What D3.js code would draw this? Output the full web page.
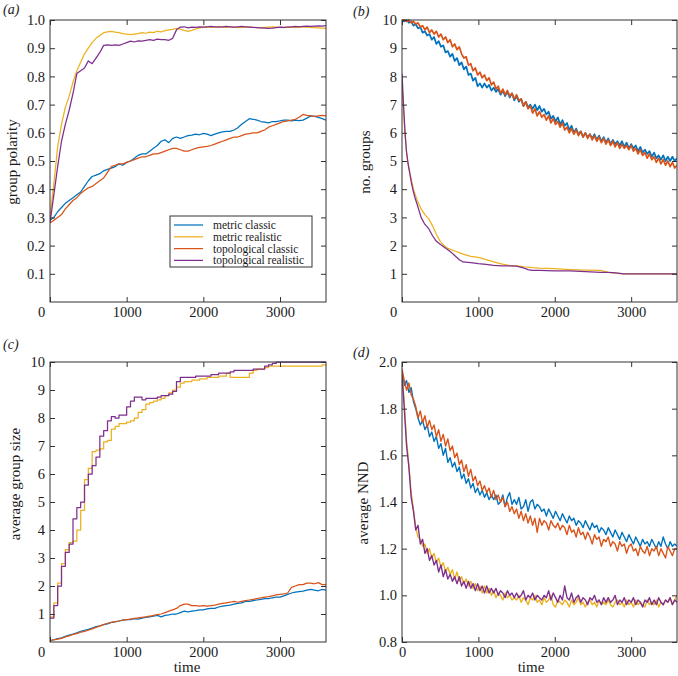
<!DOCTYPE html>
<html><head><meta charset="utf-8">
<script src="https://cdn.jsdelivr.net/npm/d3@7"></script>
<style>
body{margin:0;background:#fff}
svg{display:block}
text{font-family:"Liberation Serif","Times New Roman",serif;fill:#1a1a1a}
</style>
</head><body>
<svg id="chart" width="678" height="676"></svg>
<script>
// ---------------- DATA ----------------
const seriesNames = ["metric classic","metric realistic","topological classic","topological realistic"];
const seriesColors = ["#0072BD","#EDB120","#D95319","#7E2F8E"];
const xDomain = [0, 3600];
const xTicks = [0, 1000, 2000, 3000];
const aYTicks = [0.1,0.2,0.3,0.4,0.5,0.6,0.7,0.8,0.9,1.0];
const bYTicks = [1,2,3,4,5,6,7,8,9,10];
const cYTicks = [1,2,3,4,5,6,7,8,9,10];
const dYTicks = [0.8,1.0,1.2,1.4,1.6,1.8,2.0];

// panel (a): group polarity, sampled every 50 time units
const aStep = 50;
const aMetricClassic = [0.29,0.30,0.32,0.335,0.35,0.36,0.37,0.38,0.39,0.41,
 0.43,0.445,0.45,0.455,0.465,0.47,0.475,0.48,0.49,0.485,
 0.495,0.50,0.51,0.52,0.525,0.525,0.535,0.545,0.555,0.57,
 0.575,0.565,0.58,0.585,0.58,0.585,0.59,0.592,0.595,0.593,
 0.598,0.595,0.59,0.595,0.60,0.603,0.605,0.605,0.61,0.618,
 0.63,0.64,0.65,0.648,0.645,0.64,0.638,0.635,0.64,0.64,
 0.642,0.645,0.645,0.642,0.645,0.643,0.645,0.652,0.66,0.658,
 0.655,0.65,0.645];
const aMetricRealistic = [0.30,0.42,0.55,0.63,0.69,0.73,0.78,0.82,0.85,0.88,
 0.90,0.92,0.935,0.945,0.955,0.958,0.96,0.957,0.955,0.952,
 0.95,0.948,0.95,0.952,0.955,0.953,0.957,0.955,0.96,0.958,
 0.962,0.965,0.967,0.97,0.968,0.963,0.96,0.963,0.968,0.972,
 0.975,0.976,0.974,0.975,0.977,0.975,0.974,0.976,0.975,0.973,
 0.974,0.975,0.976,0.974,0.973,0.972,0.974,0.975,0.976,0.975,
 0.974,0.973,0.975,0.974,0.973,0.975,0.976,0.975,0.974,0.973,
 0.972,0.971,0.97];
const aTopoClassic = [0.28,0.29,0.30,0.31,0.33,0.345,0.36,0.37,0.385,0.395,
 0.405,0.41,0.42,0.43,0.44,0.46,0.48,0.485,0.49,0.49,
 0.495,0.50,0.505,0.51,0.515,0.515,0.52,0.525,0.525,0.53,
 0.535,0.54,0.545,0.545,0.54,0.535,0.535,0.54,0.545,0.548,
 0.55,0.552,0.555,0.56,0.565,0.57,0.575,0.58,0.585,0.585,
 0.59,0.595,0.597,0.60,0.60,0.605,0.61,0.62,0.625,0.63,
 0.635,0.64,0.642,0.645,0.648,0.655,0.665,0.662,0.66,0.658,
 0.66,0.662,0.66];
const aTopoRealistic = [0.28,0.38,0.48,0.57,0.63,0.68,0.74,0.81,0.82,0.83,
 0.855,0.845,0.865,0.885,0.91,0.912,0.91,0.912,0.91,0.915,
 0.92,0.925,0.922,0.926,0.925,0.928,0.93,0.928,0.932,0.93,
 0.93,0.928,0.935,0.965,0.975,0.976,0.972,0.975,0.974,0.976,
 0.975,0.976,0.977,0.976,0.975,0.976,0.977,0.976,0.975,0.976,
 0.977,0.976,0.975,0.974,0.973,0.972,0.971,0.97,0.971,0.973,
 0.975,0.974,0.975,0.976,0.977,0.976,0.977,0.978,0.977,0.978,
 0.979,0.978,0.98];

// panel (b): number of groups
const bStep = 30;
const bMetricClassic = [10.0,9.95,10.0,9.9,9.95,9.8,9.85,9.7,9.75,9.55,
 9.6,9.45,9.5,9.3,9.4,9.15,9.25,9.05,9.1,8.85,
 8.9,8.7,8.8,8.55,8.65,8.4,8.5,8.25,8.35,8.05,
 8.1,7.85,7.95,7.65,7.75,7.6,7.75,7.6,7.7,7.5,
 7.6,7.45,7.55,7.35,7.5,7.3,7.45,7.25,7.4,7.15,
 7.3,7.1,7.2,6.95,7.1,6.9,7.0,6.85,7.0,6.8,
 6.95,6.75,6.85,6.65,6.75,6.5,6.6,6.4,6.55,6.3,
 6.45,6.25,6.35,6.1,6.25,6.0,6.15,5.95,6.05,5.85,
 6.0,5.85,5.95,5.8,5.95,5.75,5.9,5.7,5.85,5.65,
 5.8,5.6,5.75,5.6,5.7,5.55,5.7,5.5,5.65,5.45,
 5.6,5.45,5.55,5.35,5.5,5.3,5.4,5.25,5.35,5.15,
 5.3,5.1,5.2,5.05,5.2,5.0,5.15,5.0,5.15,5.0,
 5.1];
const bTopoClassic = [10.0,10.0,9.95,10.0,9.9,9.95,9.85,9.9,9.75,9.8,
 9.65,9.75,9.55,9.65,9.5,9.6,9.4,9.5,9.3,9.4,
 9.2,9.3,9.05,9.15,8.95,9.05,8.8,8.65,8.7,8.4,
 8.45,8.2,8.3,8.05,8.15,7.95,8.05,7.85,7.95,7.7,
 7.8,7.55,7.65,7.4,7.55,7.35,7.5,7.3,7.4,7.2,
 7.35,7.15,7.2,6.95,7.1,6.85,6.95,6.7,6.85,6.6,
 6.75,6.55,6.65,6.45,6.6,6.35,6.5,6.3,6.4,6.2,
 6.35,6.1,6.2,6.0,6.15,5.95,6.1,5.9,6.05,5.85,
 6.0,5.8,5.95,5.75,5.9,5.7,5.85,5.65,5.8,5.6,
 5.75,5.55,5.7,5.5,5.65,5.45,5.6,5.45,5.55,5.4,
 5.55,5.35,5.45,5.25,5.4,5.2,5.3,5.1,5.25,5.05,
 5.15,4.95,5.1,4.9,5.05,4.85,5.0,4.8,4.95,4.75,
 4.85];
const bRealTime = [0,20,40,60,80,100,125,150,175,200,250,300,350,400,450,500,550,600,650,700,750,800,
 900,1000,1100,1200,1300,1400,1500,1600,1650,1700,1800,2000,2200,2400,2600,2700,2800,2900,3000,3600];
const bMetricRealistic = [7.7,6.8,5.9,5.3,4.9,4.6,4.3,4.0,3.8,3.6,3.3,3.1,2.95,2.7,2.4,2.15,2.0,1.9,1.85,1.8,1.75,1.7,
 1.62,1.58,1.5,1.42,1.35,1.3,1.28,1.25,1.24,1.22,1.2,1.18,1.15,1.13,1.12,1.05,1.02,1.0,1.0,1.0];
const bTopoRealistic = [8.1,7.0,6.0,5.3,4.9,4.6,4.2,3.9,3.65,3.45,3.0,2.75,2.6,2.35,2.15,2.05,1.95,1.85,1.75,1.62,1.5,1.42,
 1.4,1.36,1.33,1.3,1.28,1.28,1.27,1.2,1.15,1.12,1.12,1.1,1.1,1.08,1.05,1.05,1.03,1.0,1.0,1.0];

// panel (c): average group size
const cStep = 50;
const cMetricClassic = [0.05,0.08,0.12,0.15,0.2,0.25,0.28,0.33,0.38,0.42,
 0.45,0.5,0.55,0.58,0.62,0.65,0.7,0.72,0.75,0.78,
 0.8,0.8,0.83,0.82,0.85,0.88,0.9,0.92,0.95,0.9,
 0.95,0.97,1.0,1.0,1.05,1.1,1.08,1.1,1.12,1.15,
 1.15,1.18,1.2,1.2,1.25,1.28,1.3,1.32,1.35,1.38,
 1.4,1.45,1.45,1.48,1.5,1.52,1.55,1.55,1.58,1.6,
 1.6,1.65,1.7,1.75,1.78,1.8,1.82,1.85,1.88,1.85,
 1.83,1.88,1.85];
const cMetricRealistic = [0.9,1.4,2.1,2.8,3.3,3.55,3.6,4.0,4.7,5.8,
 6.2,6.8,6.85,6.9,7.15,7.2,7.6,7.7,7.8,7.8,
 7.85,7.9,8.0,8.2,8.3,8.5,8.55,8.6,8.65,8.7,
 8.8,8.9,9.0,9.1,9.25,9.3,9.3,9.35,9.35,9.4,
 9.4,9.45,9.45,9.45,9.5,9.5,9.6,9.45,9.45,9.45,
 9.45,9.45,9.6,9.7,9.75,9.75,9.8,9.85,9.85,9.85,
 9.85,9.85,9.85,9.85,9.85,9.85,9.85,9.85,9.85,9.85,
 9.85,9.9,9.9];
const cTopoClassic = [0.05,0.08,0.1,0.13,0.18,0.22,0.27,0.3,0.35,0.38,
 0.42,0.47,0.52,0.57,0.62,0.67,0.7,0.73,0.75,0.78,
 0.8,0.82,0.84,0.86,0.88,0.9,0.92,0.95,0.98,1.0,
 1.05,1.1,1.15,1.2,1.3,1.35,1.35,1.3,1.3,1.28,
 1.3,1.28,1.3,1.32,1.35,1.38,1.4,1.42,1.45,1.42,
 1.45,1.48,1.5,1.52,1.55,1.58,1.6,1.62,1.65,1.68,
 1.7,1.72,1.75,1.95,2.0,2.05,2.05,2.1,2.1,2.08,
 2.12,2.05,2.05];
const cTopoRealistic = [0.85,1.3,2.0,2.7,3.2,3.5,4.4,4.8,5.0,5.6,
 6.0,6.3,6.6,7.35,7.55,7.9,8.05,8.0,8.1,8.1,
 8.4,8.6,8.75,8.75,8.65,8.7,8.7,8.7,8.75,8.8,
 8.8,8.85,8.95,9.3,9.45,9.45,9.45,9.45,9.5,9.5,
 9.5,9.5,9.55,9.55,9.6,9.6,9.6,9.65,9.7,9.7,
 9.7,9.7,9.7,9.75,9.75,9.75,9.85,9.9,9.95,10,
 10,10,10,10,10,10,10,10,10,10,
 10,10,10];

// panel (d): average NND
const dStep = 30;
const dMetricClassic = [1.96,1.90,1.92,1.87,1.89,1.83,1.80,1.76,1.73,1.75,
 1.71,1.73,1.68,1.70,1.66,1.68,1.63,1.65,1.60,1.63,
 1.57,1.59,1.55,1.57,1.53,1.55,1.50,1.52,1.48,1.50,
 1.46,1.48,1.44,1.46,1.43,1.45,1.42,1.44,1.41,1.43,
 1.41,1.43,1.39,1.40,1.43,1.38,1.42,1.44,1.39,1.41,
 1.39,1.42,1.37,1.38,1.41,1.36,1.40,1.41,1.37,1.39,
 1.38,1.36,1.37,1.34,1.37,1.35,1.33,1.36,1.34,1.32,
 1.35,1.33,1.31,1.34,1.32,1.33,1.30,1.32,1.31,1.29,
 1.32,1.30,1.28,1.31,1.29,1.30,1.27,1.29,1.28,1.26,
 1.29,1.27,1.25,1.28,1.26,1.24,1.27,1.25,1.23,1.26,
 1.24,1.22,1.25,1.23,1.21,1.24,1.22,1.23,1.21,1.24,
 1.22,1.20,1.23,1.21,1.25,1.22,1.20,1.23,1.21,1.22,
 1.21];
const dMetricRealistic = [1.96,1.82,1.66,1.56,1.44,1.37,1.29,1.25,1.24,1.21,
 1.22,1.18,1.20,1.16,1.18,1.14,1.16,1.12,1.14,1.10,
 1.12,1.09,1.11,1.07,1.10,1.06,1.08,1.05,1.07,1.04,
 1.06,1.03,1.05,1.02,1.04,1.01,1.04,1.01,1.03,1.00,
 1.02,0.99,1.01,1.00,0.98,1.01,0.99,1.00,0.98,0.99,
 0.98,1.00,0.97,0.99,0.98,0.96,0.99,0.98,1.00,0.97,
 0.98,0.96,0.99,0.97,0.98,1.00,0.96,0.95,0.98,0.97,
 0.96,0.98,0.97,0.95,0.98,0.96,0.97,0.99,0.96,0.97,
 0.95,0.97,0.98,0.96,0.97,0.95,0.98,0.96,0.97,0.96,
 0.98,0.96,0.95,0.97,0.98,0.96,0.97,0.95,0.98,0.96,
 0.97,0.95,0.98,0.96,0.97,0.96,0.95,0.98,0.96,0.97,
 0.96,0.98,0.95,0.97,0.96,0.98,0.97,0.99,0.96,0.98,
 1.00];
const dTopoClassic = [1.97,1.92,1.88,1.91,1.86,1.84,1.81,1.76,1.79,1.74,
 1.77,1.72,1.75,1.71,1.73,1.68,1.71,1.66,1.69,1.64,
 1.67,1.62,1.64,1.59,1.61,1.56,1.58,1.53,1.56,1.51,
 1.54,1.49,1.51,1.47,1.49,1.45,1.47,1.44,1.46,1.42,
 1.45,1.41,1.43,1.40,1.42,1.38,1.40,1.36,1.38,1.35,
 1.37,1.33,1.36,1.32,1.35,1.31,1.34,1.30,1.33,1.27,
 1.33,1.30,1.32,1.31,1.28,1.32,1.30,1.29,1.31,1.28,
 1.30,1.29,1.26,1.30,1.27,1.28,1.25,1.29,1.26,1.27,
 1.24,1.27,1.25,1.22,1.26,1.24,1.25,1.21,1.24,1.23,
 1.25,1.21,1.23,1.22,1.19,1.23,1.21,1.22,1.18,1.21,
 1.22,1.19,1.20,1.17,1.21,1.19,1.18,1.21,1.17,1.20,
 1.19,1.21,1.17,1.20,1.18,1.16,1.21,1.19,1.17,1.20,
 1.20];
const dTopoRealistic = [1.95,1.80,1.64,1.55,1.42,1.36,1.28,1.30,1.22,1.24,
 1.18,1.20,1.15,1.17,1.13,1.15,1.10,1.13,1.08,1.11,
 1.07,1.09,1.06,1.08,1.05,1.08,1.04,1.06,1.03,1.06,
 1.03,1.05,1.02,1.05,1.02,1.04,1.01,1.04,1.01,1.03,
 1.01,1.03,1.00,1.02,1.01,0.99,1.02,1.00,1.01,0.99,
 1.01,0.99,1.00,1.02,0.98,1.00,0.99,1.01,0.98,1.00,
 0.99,0.98,1.00,0.99,1.02,0.98,1.01,0.99,0.97,1.00,
 0.98,1.04,0.99,0.98,1.01,0.97,0.99,1.00,0.97,0.99,
 0.98,0.96,0.99,0.98,1.00,0.97,0.98,0.96,0.99,0.97,
 0.99,0.97,0.98,1.00,0.96,0.98,0.97,0.99,0.96,0.98,
 0.97,0.99,0.96,0.98,0.97,0.95,0.98,0.97,0.99,0.96,
 0.98,0.96,0.99,0.97,0.96,0.98,0.97,0.99,0.96,0.98,
 0.97];

// ---------------- DRAWING ----------------
const panels = [
  {id:"a", box:[50,20,326,302], yDomain:[0,1], yTicks:aYTicks, fmt:d3.format(".1f"), lw:1.25,
   ylabel:"group polarity", ylabelPos:[12,162], letter:"(a)", letterPos:[3,14], zeroDx:-9, legend:true,
   series:[{values:aMetricClassic, step:aStep},{values:aMetricRealistic, step:aStep},
           {values:aTopoClassic, step:aStep},{values:aTopoRealistic, step:aStep}]},
  {id:"b", box:[402,20,677,302], yDomain:[0,10], yTicks:bYTicks, fmt:d3.format("d"), lw:1.25,
   ylabel:"no. groups", ylabelPos:[365,162], letter:"(b)", letterPos:[353,16], zeroDx:-9,
   series:[{values:bMetricClassic, step:bStep, lw:1.7},{values:bMetricRealistic, times:bRealTime},
           {values:bTopoClassic, step:bStep, lw:1.7},{values:bTopoRealistic, times:bRealTime}]},
  {id:"c", box:[50,362,326,642], yDomain:[0,10], yTicks:cYTicks, fmt:d3.format("d"), lw:1.25,
   ylabel:"average group size", ylabelPos:[15,484], letter:"(c)", letterPos:[3,349], zeroDx:-9, xlabel:"time", xlabelX:187,
   series:[{values:cMetricClassic, step:cStep},{values:cMetricRealistic, step:cStep, curve:d3.curveStepAfter},
           {values:cTopoClassic, step:cStep},{values:cTopoRealistic, step:cStep, curve:d3.curveStepAfter}]},
  {id:"d", box:[402,362,677,642], yDomain:[0.8,2.0], yTicks:dYTicks, fmt:d3.format(".1f"), lw:1.35,
   ylabel:"average NND", ylabelPos:[363,503], letter:"(d)", letterPos:[353,357], zeroDx:0, xlabel:"time", xlabelX:531,
   series:[{values:dMetricClassic, step:dStep},{values:dMetricRealistic, step:dStep},
           {values:dTopoClassic, step:dStep},{values:dTopoRealistic, step:dStep}]}
];

const svg = d3.select("#chart");
const defs = svg.append("defs");

function styleAxis(sel){
  sel.select(".domain").remove();
  sel.selectAll(".tick line").attr("stroke","#333").attr("stroke-width",1);
  sel.selectAll(".tick text").attr("font-size","14.5px").attr("fill","#1a1a1a")
     .attr("font-family","'Liberation Serif','Times New Roman',serif");
}

panels.forEach(p => {
  const [x0,y0,x1,y1] = p.box;
  const x = d3.scaleLinear().domain(xDomain).range([x0,x1]);
  const y = d3.scaleLinear().domain(p.yDomain).range([y1,y0]);
  const g = svg.append("g");
  const clipId = "clip-" + p.id;
  defs.append("clipPath").attr("id",clipId).append("rect")
    .attr("x",x0).attr("y",y0-1).attr("width",x1-x0).attr("height",y1-y0+2);

  const lg = g.append("g").attr("clip-path",`url(#${clipId})`);
  p.series.forEach((s,i) => {
    const pts = s.values.map((v,j) => [s.times ? s.times[j] : j*s.step, v]);
    lg.append("path").datum(pts)
      .attr("fill","none").attr("stroke",seriesColors[i]).attr("stroke-width",s.lw || p.lw)
      .attr("stroke-linejoin","round")
      .attr("d", d3.line().x(d=>x(d[0])).y(d=>y(d[1])).curve(s.curve || d3.curveLinear));
  });

  // axes: inward ticks on all sides
  const bottom = g.append("g").attr("transform",`translate(0,${y1})`)
    .call(d3.axisBottom(x).tickValues(xTicks).tickSize(-5).tickPadding(5).tickFormat(d3.format("d")));
  styleAxis(bottom);
  bottom.selectAll(".tick text").filter(d => d === 0).attr("dx", p.zeroDx);
  const top = g.append("g").attr("transform",`translate(0,${y0})`)
    .call(d3.axisTop(x).tickValues(xTicks).tickSize(-5).tickFormat(""));
  styleAxis(top);
  const left = g.append("g").attr("transform",`translate(${x0},0)`)
    .call(d3.axisLeft(y).tickValues(p.yTicks).tickSize(-5).tickPadding(5).tickFormat(p.fmt));
  styleAxis(left);
  const right = g.append("g").attr("transform",`translate(${x1},0)`)
    .call(d3.axisRight(y).tickValues(p.yTicks).tickSize(-5).tickFormat(""));
  styleAxis(right);

  g.append("rect").attr("x",x0).attr("y",y0).attr("width",x1-x0).attr("height",y1-y0)
    .attr("fill","none").attr("stroke","#333").attr("stroke-width",1);

  g.append("text").attr("transform",`translate(${p.ylabelPos[0]},${p.ylabelPos[1]}) rotate(-90)`)
    .attr("text-anchor","middle").attr("dominant-baseline","central")
    .attr("font-size","15px").text(p.ylabel);

  g.append("text").attr("x",p.letterPos[0]).attr("y",p.letterPos[1])
    .attr("font-size","14px").attr("font-style","italic").text(p.letter);

  if (p.xlabel) {
    g.append("text").attr("x",p.xlabelX).attr("y",y1+30).attr("text-anchor","middle")
      .attr("font-size","15px").text(p.xlabel);
  }

  if (p.legend) {
    const lx = 170, ly = 216, lw = 142, lh = 51;
    const leg = g.append("g");
    leg.append("rect").attr("x",lx).attr("y",ly).attr("width",lw).attr("height",lh)
      .attr("fill","#fff").attr("stroke","#333").attr("stroke-width",1);
    seriesNames.forEach((n,i) => {
      const yy = ly + 9 + i*11.8;
      leg.append("line").attr("x1",lx+4).attr("x2",lx+33).attr("y1",yy).attr("y2",yy)
        .attr("stroke",seriesColors[i]).attr("stroke-width",1.25);
      leg.append("text").attr("x",lx+43).attr("y",yy).attr("dominant-baseline","central")
        .attr("font-size","11.5px").text(n);
    });
  }
});
</script>
</body></html>
